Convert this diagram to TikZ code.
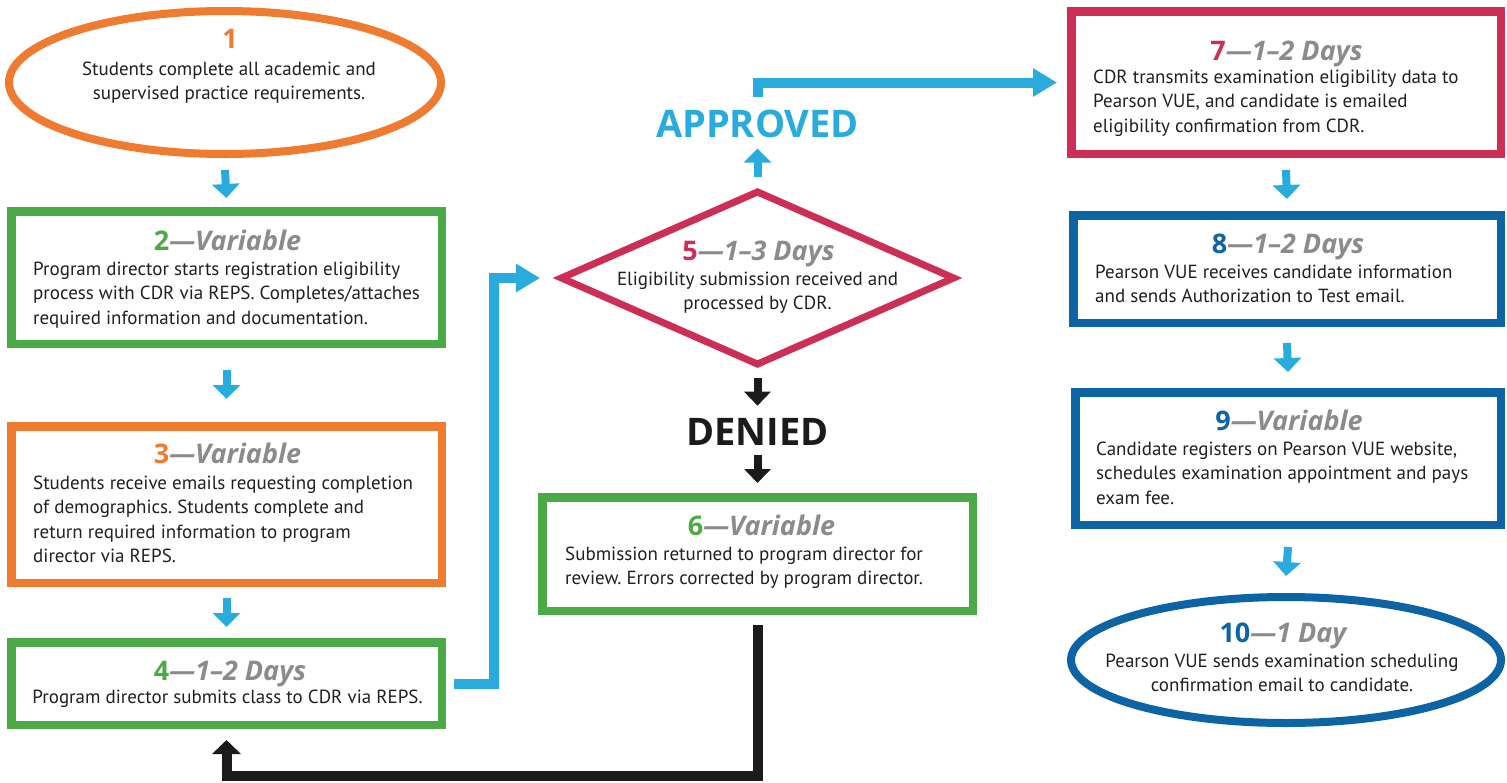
\documentclass[tikz,border=0pt]{standalone}
\usepackage{fontspec}
\setmainfont{PT Sans}
\newfontfamily\hfont[Ligatures=TeX]{Open Sans}
\usetikzlibrary{arrows.meta,shapes.geometric,calc}
\definecolor{cgreen}{HTML}{4BA946}
\definecolor{corange}{HTML}{EE7B30}
\definecolor{cred}{HTML}{CC2E55}
\definecolor{cblue}{HTML}{0C64A4}
\definecolor{carrow}{HTML}{2AABDE}
\definecolor{cgray}{HTML}{8B8B8B}
\definecolor{ctext}{HTML}{231F20}
\definecolor{cblack}{HTML}{1B1B1B}
\newcommand\bodyfont{\fontsize{19}{24.5}\selectfont}
\newcommand\hdtext[3]{\textcolor{#1}{#2}\textcolor{cgray}{\itshape —#3}}
\frenchspacing
\begin{document}
\begin{tikzpicture}[x=1pt,y=-1pt,
  boxs/.style={draw, rectangle, line width=8.5pt, inner sep=0pt, fill=white},
  ell/.style={draw, ellipse, line width=8pt, inner sep=0pt, fill=white},
  hd/.style={anchor=base, inner sep=0pt, font=\hfont\fontsize{27}{28}\selectfont\bfseries},
  bd/.style={anchor=base west, inner sep=0pt, text=ctext, font=\bodyfont},
  bdc/.style={anchor=base, inner sep=0pt, text=ctext, font=\bodyfont},
  big/.style={anchor=base, inner sep=0pt, font=\hfont\fontsize{38}{38}\selectfont\bfseries},
  blk/.style={line width=8pt, draw=carrow, -{Triangle[width=27pt,length=14pt]}},
  kblk/.style={line width=8pt, draw=cblack, -{Triangle[width=26pt,length=14pt]}},
  bconn/.style={line width=10pt, draw=carrow, -{Triangle[width=27pt,length=24pt]}},
  kconn/.style={line width=10pt, draw=cblack, -{Triangle[width=28pt,length=14pt]}}]
\useasboundingbox (0,0) rectangle (1507,782);
\fill[white] (0,0) rectangle (1507,782);

% shapes
\node[ell, draw=corange, minimum width=432pt, minimum height=143pt] (n1) at (225,82.5) {};
\node[boxs, draw=cgreen, minimum width=430.5pt, minimum height=132.5pt] (n2) at (226.5,277.5) {};
\node[boxs, draw=corange, minimum width=430.5pt, minimum height=156.5pt] (n3) at (226.5,504.5) {};
\node[boxs, draw=cgreen, minimum width=430.5pt, minimum height=82.5pt] (n4) at (226.5,683.5) {};
\node[diamond, draw=cred, line width=7pt, inner sep=0pt, fill=white, minimum width=395pt, minimum height=175pt] (n5) at (757.5,278) {};
\node[boxs, draw=cgreen, minimum width=430.5pt, minimum height=113.5pt] (n6) at (757.5,554) {};
\node[boxs, draw=cred, minimum width=429.5pt, minimum height=142.5pt] (n7) at (1286,82.5) {};
\node[boxs, draw=cblue, minimum width=427.5pt, minimum height=107.5pt] (n8) at (1287,269) {};
\node[boxs, draw=cblue, minimum width=425.5pt, minimum height=132.5pt] (n9) at (1288,458.5) {};
\node[ell, draw=cblue, minimum width=430pt, minimum height=126pt] (n10) at (1286,660) {};

% texts
\node[hd, text=corange] (h1) at (230,48) {1};
\node[bdc] (b1) at (229,75) {\begin{tabular}[t]{@{}c@{}}Students complete all academic and\\supervised practice requirements.\end{tabular}};

\node[hd] (h2) at (227.5,250) {\hdtext{cgreen}{2}{Variable}};
\node[bd] (b2) at (33,275) {\begin{tabular}[t]{@{}l@{}}Program director starts registration eligibility\\process with CDR via REPS. Completes/attaches\\required information and documentation.\end{tabular}};

\node[hd] (h3) at (227.5,463) {\hdtext{corange}{3}{Variable}};
\node[bd] (b3) at (33,489) {\begin{tabular}[t]{@{}l@{}}Students receive emails requesting completion\\of demographics. Students complete and\\return required information to program\\director via REPS.\end{tabular}};

\node[hd] (h4) at (230,680) {\hdtext{cgreen}{4}{1–2 Days}};
\node[bdc] (b4) at (227.5,703) {Program director submits class to CDR via REPS.};

\node[hd] (h5) at (758.5,260) {\hdtext{cred}{5}{1–3 Days}};
\node[bdc] (b5) at (757.5,285) {\begin{tabular}[t]{@{}c@{}}Eligibility submission received and\\processed by CDR.\end{tabular}};

\node[big, text=carrow] (appr) at (757.5,137) {APPROVED};
\node[big, text=cblack] (den) at (757.5,445) {DENIED};

\node[hd] (h6) at (761.5,535) {\hdtext{cgreen}{6}{Variable}};
\node[bd] (b6) at (565,560) {\begin{tabular}[t]{@{}l@{}}Submission returned to program director for\\review. Errors corrected by program director.\end{tabular}};

\node[hd] (h7) at (1286.5,60) {\hdtext{cred}{7}{1–2 Days}};
\node[bd] (b7) at (1093,83) {\begin{tabular}[t]{@{}l@{}}CDR transmits examination eligibility data to\\Pearson VUE, and candidate is emailed\\eligibility confirmation from CDR.\end{tabular}};

\node[hd] (h8) at (1288,253) {\hdtext{cblue}{8}{1–2 Days}};
\node[bd] (b8) at (1095,278) {\begin{tabular}[t]{@{}l@{}}Pearson VUE receives candidate information\\and sends Authorization to Test email.\end{tabular}};

\node[hd] (h9) at (1289,430) {\hdtext{cblue}{9}{Variable}};
\node[bd] (b9) at (1096,455) {\begin{tabular}[t]{@{}l@{}}Candidate registers on Pearson VUE website,\\schedules examination appointment and pays\\exam fee.\end{tabular}};

\node[hd] (h10) at (1283,642) {\hdtext{cblue}{10}{1 Day}};
\node[bdc] (b10) at (1282,667) {\begin{tabular}[t]{@{}c@{}}Pearson VUE sends examination scheduling\\confirmation email to candidate.\end{tabular}};

% small arrows
\draw[blk] ($(n1.south)+(0,12)$) -- ($(n2.north)+(0,-9)$);
\draw[blk] ($(n2.south)+(0,22)$) -- ($(n3.north)+(0,-23)$);
\draw[blk] ($(n3.south)+(0,11)$) -- ($(n4.north)+(0,-11)$);
\draw[blk] ($(n7.south)+(0,12)$) -- ($(n8.north)+(0,-12)$);
\draw[blk] ($(n8.south)+(0,16)$) -- ($(n9.north)+(0,-16)$);
\draw[blk] ($(n9.south)+(0,18)$) -- ($(n10.north)+(0,-17)$);
\draw[blk] ($(n5.center)+(0,-101)$) -- ($(appr.south)+(0,11)$);
\draw[kblk] ($(n5.center)+(0,100)$) -- ($(den.north)+(0,-12)$);
\draw[kblk] ($(den.south)+(0,10)$) -- ($(n6.north)+(0,-10)$);

% connectors
\draw[bconn] ($(n4.east)+(8,0)$) -- ++(40,0) |- ($(n5.center)+(-217.5,0)$);
\draw[bconn] ($(appr.north)+(0,-12)$) |- ($(n7.west)+(-10,0)$);
\draw[kconn] ($(n6.south)+(0,10)$) -- ++(0,151) -| ($(n4.south)+(0,11)$);
\end{tikzpicture}
\end{document}
